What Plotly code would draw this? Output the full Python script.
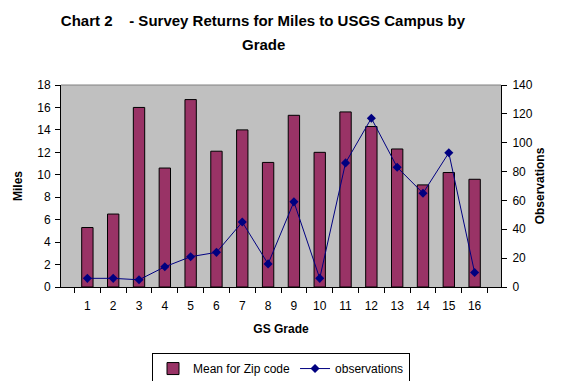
import plotly.graph_objects as go

grades = [str(i) for i in range(1, 17)]
mean_miles = [5.3, 6.5, 16.0, 10.6, 16.7, 12.1, 14.0, 11.1, 15.3, 12.0, 15.6, 14.3, 12.3, 9.1, 10.2, 9.6]
observations = [6, 6, 5, 14, 21, 24, 45, 16, 59, 6, 86, 117, 83, 65, 93, 10]
title_line1 = "Chart 2    - Survey Returns for Miles to USGS Campus by"
title_line2 = "Grade"

FONT = "Liberation Sans, Arial, sans-serif"

fig = go.Figure()
fig.add_trace(go.Bar(
    x=grades, y=mean_miles, name="Mean for Zip code",
    marker=dict(color="#993366", line=dict(color="black", width=1)),
))
fig.add_trace(go.Scatter(
    x=grades, y=observations, name="observations", yaxis="y2",
    mode="lines+markers",
    line=dict(color="#000080", width=1),
    marker=dict(symbol="diamond", size=7, color="#000080"),
))

fig.update_layout(
    width=558, height=373,
    margin=dict(l=53, r=65, t=77, b=94, autoexpand=False),
    paper_bgcolor="white", plot_bgcolor="#C0C0C0",
    font=dict(family=FONT, size=12, color="black"),
    title=dict(
        text="<b>" + title_line1 + "</b>",
        x=255 / 558, xanchor="center", y=1 - 13 / 373, yanchor="middle",
        font=dict(size=15, family=FONT),
    ),
    annotations=[dict(
        text="<b>" + title_line2 + "</b>", xref="paper", yref="paper",
        x=(255 - 53) / 440, y=(279 - 36) / 202, xanchor="center", yanchor="middle",
        showarrow=False, font=dict(size=15, family=FONT),
    )],
    bargap=0.56,
    showlegend=True,
    legend=dict(
        orientation="h", x=0.5, xanchor="center", y=-0.327, yanchor="top",
        bordercolor="black", borderwidth=1, bgcolor="white",
        font=dict(size=12), tracegroupgap=0,
    ),
    xaxis=dict(
        type="category", tickson="boundaries", ticks="outside", ticklen=5,
        tickcolor="black", showline=True, linecolor="black", linewidth=1,
        showgrid=False, mirror=False, automargin=False, ticklabelstandoff=8,
        title=dict(text="<b>GS Grade</b>", font=dict(size=12), standoff=12),
    ),
    yaxis=dict(
        range=[0, 18], dtick=2, ticks="outside", ticklen=5, tickcolor="black",
        showline=True, linecolor="black", linewidth=1, showgrid=False,
        zeroline=False, automargin=False, ticklabelstandoff=2,
        title=dict(text="<b>Miles</b>", font=dict(size=12), standoff=12),
    ),
    yaxis2=dict(
        overlaying="y", side="right", range=[0, 140], dtick=20,
        ticks="outside", ticklen=5, tickcolor="black",
        showline=True, linecolor="black", linewidth=1, showgrid=False,
        zeroline=False, automargin=False, ticklabelstandoff=3,
        title=dict(text="<b>Observations</b>", font=dict(size=12), standoff=2),
    ),
    shapes=[dict(type="line", xref="paper", yref="paper", x0=0, x1=1, y0=1, y1=1,
                 line=dict(color="#808080", width=1))],
)

fig.write_html("out.html")
